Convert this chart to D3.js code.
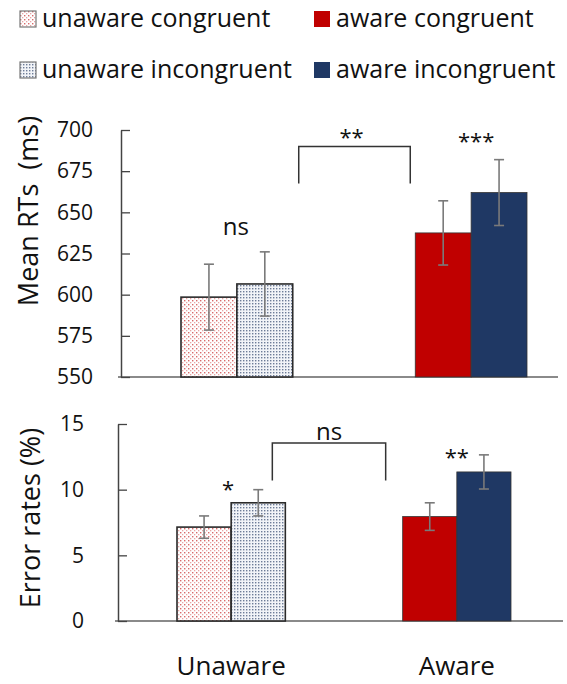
<!DOCTYPE html>
<html>
<head>
<meta charset="utf-8">
<script src="https://cdn.jsdelivr.net/npm/d3@7"></script>
<style>
  body { margin: 0; background: #fff; }
  text { font-family: "Open Sans", sans-serif; fill: #111; }
</style>
</head>
<body>
<script>
"use strict";

// --- data ---
const groups = ["Unaware", "Aware"];
const conditions = ["unaware congruent", "unaware incongruent", "aware congruent", "aware incongruent"];
const rtMeans = [598.5, 606.5, 637.5, 662];
const rtErrors = [20, 19.5, 19.5, 20];
const errMeans = [7.15, 9.0, 7.95, 11.35];
const errErrors = [0.85, 1.0, 1.05, 1.3];
const rtTicks = [550, 575, 600, 625, 650, 675, 700];
const errTicks = [0, 5, 10, 15];

const W = 567, H = 684;
const fills = ["url(#dotsRed)", "url(#dotsBlue)", "#c00000", "#1f3864"];

const svg = d3.select("body").append("svg")
    .attr("width", W)
    .attr("height", H);

// dot patterns used for the "unaware" bars
const defs = svg.append("defs");
const pRed = defs.append("pattern").attr("id", "dotsRed")
    .attr("patternUnits", "userSpaceOnUse").attr("width", 4).attr("height", 4);
pRed.append("rect").attr("width", 4).attr("height", 4).attr("fill", "#fff");
pRed.append("rect").attr("x", 0).attr("y", 0).attr("width", 1.4).attr("height", 1.4).attr("fill", "#d86a6a");
pRed.append("rect").attr("x", 2).attr("y", 2).attr("width", 1.3).attr("height", 1.3).attr("fill", "#e8a5a5");

const pBlue = defs.append("pattern").attr("id", "dotsBlue")
    .attr("patternUnits", "userSpaceOnUse").attr("width", 3).attr("height", 3);
pBlue.append("rect").attr("width", 3).attr("height", 3).attr("fill", "#f2f4f8");
pBlue.append("rect").attr("x", 0).attr("y", 0).attr("width", 1.4).attr("height", 1.4).attr("fill", "#6d7c98");

// --- legend ---
const legend = svg.append("g");
const legendX = [20, 314], legendY = [19, 70];
conditions.forEach((c, i) => {
  const col = i < 2 ? 0 : 1, row = i % 2;
  const g = legend.append("g").attr("transform", `translate(${legendX[col]},${legendY[row]})`);
  g.append("rect")
    .attr("x", 0).attr("y", -8).attr("width", 16).attr("height", 16)
    .attr("fill", fills[i])
    .attr("stroke", i < 2 ? "#777" : "none")
    .attr("stroke-width", 1.2);
  g.append("text")
    .attr("x", 22).attr("y", 8)
    .style("font-size", "25px")
    .text(c);
});

// --- one panel (axis + bars + error bars) ---
function drawPanel(opt) {
  const y = d3.scaleLinear().domain(opt.domain).range(opt.yRange);
  const x = d3.scaleBand().domain(groups).range(opt.xRange).paddingInner(opt.pad);
  const xi = d3.scaleBand().domain([0, 1]).range([0, x.bandwidth()]);

  const rows = opt.means.map((m, i) => ({
    group: groups[Math.floor(i / 2)], sub: i % 2, mean: m, err: opt.errors[i], fill: fills[i]
  }));

  const g = svg.append("g");

  // baseline
  g.append("line")
    .attr("x1", opt.axisX - 3).attr("x2", opt.baseEnd)
    .attr("y1", y(opt.domain[0])).attr("y2", y(opt.domain[0]))
    .attr("stroke", "#8a8a8a").attr("stroke-width", 2);

  const axis = g.append("g")
    .attr("transform", `translate(${opt.axisX},0)`)
    .call(d3.axisLeft(y).tickValues(opt.ticks).tickSize(-9).tickSizeOuter(0).tickPadding(opt.tickPad));
  axis.select(".domain").attr("stroke", "#444").attr("stroke-width", 1.5);
  axis.selectAll(".tick line").attr("stroke", "#444").attr("stroke-width", 1.3);
  axis.selectAll(".tick text")
    .style("font-family", "'Open Sans', sans-serif")
    .style("font-size", "21px")
    .attr("fill", "#111");

  g.selectAll("rect.bar")
    .data(rows)
    .enter().append("rect")
    .attr("class", "bar")
    .attr("x", d => x(d.group) + xi(d.sub))
    .attr("y", d => y(d.mean))
    .attr("width", xi.bandwidth())
    .attr("height", d => y(opt.domain[0]) - y(d.mean))
    .attr("fill", d => d.fill)
    .attr("stroke", (d, i) => i < 2 ? "#2a2a2a" : "#333")
    .attr("stroke-width", (d, i) => i < 2 ? 1.6 : 0.8);

  const eb = g.selectAll("g.err")
    .data(rows)
    .enter().append("g")
    .attr("class", "err")
    .attr("stroke", "#7a7a7a")
    .attr("stroke-width", 1.6);
  const cx = d => x(d.group) + xi(d.sub) + xi.bandwidth() / 2;
  eb.append("line")
    .attr("x1", cx).attr("x2", cx)
    .attr("y1", d => y(d.mean + d.err)).attr("y2", d => y(d.mean - d.err));
  eb.append("line")
    .attr("x1", d => cx(d) - 5).attr("x2", d => cx(d) + 5)
    .attr("y1", d => y(d.mean + d.err)).attr("y2", d => y(d.mean + d.err));
  eb.append("line")
    .attr("x1", d => cx(d) - 5).attr("x2", d => cx(d) + 5)
    .attr("y1", d => y(d.mean - d.err)).attr("y2", d => y(d.mean - d.err));

  // significance bracket between the two groups
  const bx0 = x(groups[0]) + x.bandwidth() + opt.bracket.inL;
  const bx1 = x(groups[1]) - opt.bracket.inR;
  g.append("path")
    .attr("d", `M${bx0},${y(opt.bracket.low)}V${y(opt.bracket.top)}H${bx1}V${y(opt.bracket.low)}`)
    .attr("fill", "none").attr("stroke", "#333").attr("stroke-width", 1.5);
  g.append("text")
    .attr("x", (bx0 + bx1) / 2 + opt.bracket.dx).attr("y", y(opt.bracket.top) + opt.bracket.dy)
    .attr("text-anchor", "middle")
    .style("font-size", opt.bracket.size)
    .text(opt.bracket.label);

  // within-group marks
  opt.marks.forEach((m, i) => {
    g.append("text")
      .attr("x", x(groups[i]) + x.bandwidth() / 2 + m.dx)
      .attr("y", m.y)
      .attr("text-anchor", "middle")
      .style("font-size", m.size)
      .text(m.label);
  });

  // y title (keeps the double space of the original)
  g.append("text")
    .attr("transform", `translate(${opt.titleX},${opt.titleY}) rotate(-90)`)
    .attr("text-anchor", "middle")
    .style("font-size", opt.titleSize)
    .style("white-space", "pre")
    .text(opt.title);

  return x;
}

drawPanel({
  domain: [550, 700], yRange: [377, 130], xRange: [181, 527], pad: 0.523,
  means: rtMeans, errors: rtErrors, ticks: rtTicks,
  axisX: 121, baseEnd: 558, tickPad: 28,
  bracket: { inL: 6, inR: 5, top: 690, low: 667.5, label: "**", dx: -3, dy: -1, size: "22px" },
  marks: [{ label: "ns", dx: -1, y: 235, size: "24px" }, { label: "***", dx: 5, y: 149, size: "22px" }],
  title: "Mean RTs  (ms)", titleX: 38, titleY: 211, titleSize: "27px"
});

const xErr = drawPanel({
  domain: [0, 15], yRange: [621, 424], xRange: [177, 511], pad: 0.52,
  means: errMeans, errors: errErrors, ticks: errTicks,
  axisX: 118, baseEnd: 563, tickPad: 34,
  bracket: { inL: -13, inR: 17, top: 13.55, low: 10.7, label: "ns", dx: 0, dy: -3, size: "24px" },
  marks: [{ label: "*", dx: -3, y: 497, size: "22px" }, { label: "**", dx: 0, y: 465, size: "22px" }],
  title: "Error rates (%)", titleX: 40, titleY: 518, titleSize: "27px"
});

// group labels under the lower panel
svg.selectAll("text.group")
  .data(groups)
  .enter().append("text")
  .attr("class", "group")
  .attr("x", d => xErr(d) + xErr.bandwidth() / 2)
  .attr("y", 675)
  .attr("text-anchor", "middle")
  .style("font-size", "26px")
  .text(d => d);
</script>
</body>
</html>
